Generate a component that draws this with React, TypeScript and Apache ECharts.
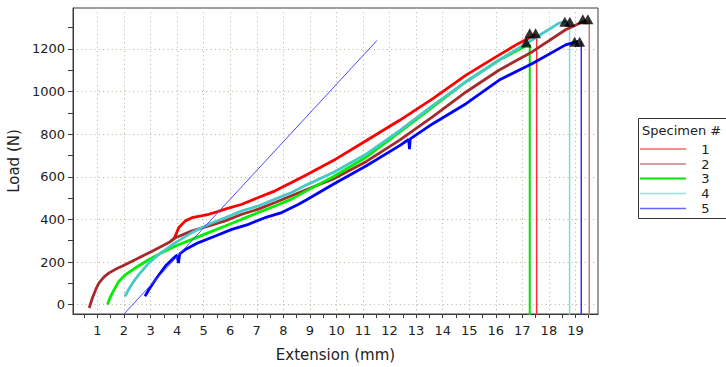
import React, { useEffect, useRef } from 'react';
import * as echarts from 'echarts';

// ---- data ----
const specimenNames = ['1', '2', '3', '4', '5'];
const lineColors = ['#ff0000', '#a52a2a', '#00ee00', '#48c8c8', '#0000ff'];
const legendColors = ['#ff6464', '#c08282', '#00e600', '#96e0e0', '#6464ff'];
const dropColors = ['#ff3030', '#c07a7a', '#00e000', '#86d8d8', '#3434ff'];

const spec1 = [
  [3.75, 296], [3.9, 312], [4.06, 361], [4.31, 393], [4.56, 408], [4.9, 416], [5.19, 424],
  [5.5, 435], [5.81, 448], [6.44, 471], [7.06, 503], [7.69, 534], [8.31, 573], [8.88, 610],
  [9.88, 676], [11.13, 770], [12.38, 865], [13.63, 967], [14.88, 1077], [16.13, 1172],
  [16.88, 1227], [17.5, 1268],
];
const spec2 = [
  [0.69, -16], [0.81, 31], [0.95, 75], [1.06, 102], [1.25, 130], [1.44, 149], [1.7, 167],
  [1.94, 181], [2.44, 212], [3.06, 251], [3.69, 291], [3.94, 314], [4.56, 346], [5.19, 369],
  [5.81, 393], [6.44, 424], [7.06, 448], [7.69, 479], [8.31, 511], [8.88, 540], [9.88, 590],
  [11.13, 672], [12.38, 772], [13.63, 882], [14.88, 998], [16.13, 1101], [17.38, 1187],
  [18.63, 1290], [19.4, 1335],
];
const spec3 = [
  [1.38, 0], [1.45, 25], [1.56, 55], [1.81, 110], [2.06, 141], [2.44, 173], [2.94, 212],
  [3.31, 236], [3.94, 275], [4.56, 306], [5.19, 338], [5.81, 369], [6.44, 401], [7.06, 432],
  [7.69, 463], [8.31, 495], [8.88, 535], [9.88, 600], [11.13, 693], [12.38, 809], [13.63, 928],
  [14.88, 1046], [16.13, 1148], [17.0, 1205], [17.2, 1222],
];
const spec4 = [
  [2.04, 39], [2.15, 65], [2.25, 86], [2.4, 115], [2.56, 141], [2.94, 196], [3.31, 236],
  [3.94, 291], [4.56, 338], [5.19, 377], [5.81, 408], [6.44, 440], [7.06, 463], [7.69, 495],
  [8.31, 526], [8.88, 562], [9.88, 620], [11.13, 707], [12.38, 817], [13.63, 935], [14.88, 1046],
  [16.13, 1148], [17.38, 1243], [18.38, 1321], [18.7, 1330],
];
const spec5 = [
  [2.79, 39], [2.94, 71], [3.19, 118], [3.56, 181], [3.88, 220], [4.0, 232], [4.05, 195],
  [4.1, 238], [4.31, 259], [4.81, 291], [5.44, 322], [6.06, 353], [6.69, 377], [7.31, 408],
  [7.94, 432], [8.56, 470], [8.88, 492], [9.88, 565], [11.13, 652], [12.38, 746], [12.72, 775],
  [12.75, 730], [12.78, 778], [13.63, 849], [14.88, 943], [16.13, 1054], [17.38, 1132],
  [18.63, 1219], [19.1, 1236],
];
const specimens = [spec1, spec2, spec3, spec4, spec5];

// break drop lines: x position and top load; they run down past the axis
const dropX = [17.54, 19.52, 17.28, 18.78, 19.22];
const dropTop = [1268, 1335, 1222, 1330, 1236];
const dropBottom = -60;

// black triangle markers at peak / break
const breakMarkers = [
  [17.28, 1273], [17.5, 1273],
  [17.15, 1230],
  [18.6, 1328], [18.79, 1328],
  [19.28, 1339], [19.47, 1339],
  [18.97, 1234], [19.16, 1234],
];

// thin modulus (slope) line
const slopeLine = [[2.0, -44], [11.53, 1240]];

// axes
const xMin = 0.08;
const xMax = 19.85;
const yMin = -44;
const yMax = 1392;
const xTickValues = [0.5, 1, 1.5, 2, 2.5, 3, 3.5, 4, 4.5, 5, 5.5, 6, 6.5, 7, 7.5, 8, 8.5, 9, 9.5, 10, 10.5, 11, 11.5, 12, 12.5, 13, 13.5, 14, 14.5, 15, 15.5, 16, 16.5, 17, 17.5, 18, 18.5, 19, 19.5];
const xLabelValues = [1, 2, 3, 4, 5, 6, 7, 8, 9, 10, 11, 12, 13, 14, 15, 16, 17, 18, 19];
const yTickValues = [0, 100, 200, 300, 400, 500, 600, 700, 800, 900, 1000, 1100, 1200, 1300];
const yLabelValues = [0, 200, 400, 600, 800, 1000, 1200];

const FONT = 'DejaVu Sans';
const TEXT = '#222';
const AXIS = '#3a3a3a';
const GRIDDOT = '#b9b09a';

export default function App() {
  const ref = useRef<HTMLDivElement>(null);
  useEffect(() => {
    if (!ref.current) return;
    const chart = echarts.init(ref.current, undefined, { renderer: 'svg' });

    const mainSeries = specimens.map((d, i) => ({
      name: specimenNames[i],
      type: 'line',
      data: d,
      showSymbol: false,
      symbol: 'none',
      lineStyle: { color: lineColors[i], width: 2.8 },
      itemStyle: { color: lineColors[i] },
      silent: true,
      z: 2 + i,
    }));
    const dropSeries = specimens.map((_, i) => ({
      type: 'line',
      data: [[dropX[i], dropTop[i]], [dropX[i], dropBottom]],
      showSymbol: false,
      symbol: 'none',
      lineStyle: { color: dropColors[i], width: i === 2 ? 2 : 1.5 },
      silent: true,
      z: 2,
    }));

    const legendY = [149, 164, 178.5, 193.5, 208.5];
    const legendGraphics: any[] = [
      {
        type: 'rect',
        shape: { x: 638.5, y: 118.5, width: 120, height: 100 },
        style: { fill: '#fff', stroke: '#333', lineWidth: 1 },
      },
      {
        type: 'text',
        x: 642,
        y: 130,
        style: { text: 'Specimen #', font: `13px "${FONT}"`, fill: TEXT, verticalAlign: 'middle' },
      },
    ];
    specimenNames.forEach((n, i) => {
      legendGraphics.push({
        type: 'line',
        shape: { x1: 640, y1: legendY[i], x2: 686, y2: legendY[i] },
        style: { stroke: legendColors[i], lineWidth: i === 2 ? 2 : 1.5 },
      });
      legendGraphics.push({
        type: 'text',
        x: 705.5,
        y: legendY[i],
        style: { text: n, font: `13px "${FONT}"`, fill: TEXT, align: 'center', verticalAlign: 'middle' },
      });
    });

    const plain = (v: number) => String(v);

    const option: any = {
      animation: false,
      backgroundColor: '#fff',
      grid: {
        left: 73,
        top: 8,
        width: 525,
        height: 306,
        show: true,
        borderColor: AXIS,
        borderWidth: 1,
        backgroundColor: 'transparent',
        containLabel: false,
        outerBoundsMode: 'none',
      },
      xAxis: [
        {
          type: 'value',
          min: xMin,
          max: xMax,
          position: 'bottom',
          name: 'Extension (mm)',
          nameLocation: 'middle',
          nameGap: 33,
          nameTextStyle: { fontFamily: FONT, fontSize: 15, color: TEXT },
          axisLine: { show: true, onZero: false, lineStyle: { color: AXIS, width: 1 } },
          axisTick: { show: true, customValues: xTickValues, length: 4, lineStyle: { color: AXIS } },
          axisLabel: { customValues: xLabelValues, formatter: plain, margin: 10, fontFamily: FONT, fontSize: 13, color: TEXT },
          splitLine: { show: false },
        },
        {
          type: 'value',
          min: xMin,
          max: xMax,
          position: 'bottom',
          axisLine: { show: false },
          axisTick: { show: false, customValues: xLabelValues },
          axisLabel: { show: false, customValues: xLabelValues },
          splitLine: { show: true, lineStyle: { color: GRIDDOT, width: 1, type: [1, 3.3] } },
        },
      ],
      yAxis: [
        {
          type: 'value',
          min: yMin,
          max: yMax,
          position: 'left',
          name: 'Load (N)',
          nameLocation: 'middle',
          nameGap: 47,
          nameTextStyle: { fontFamily: FONT, fontSize: 15, color: TEXT },
          axisLine: { show: true, onZero: false, lineStyle: { color: AXIS, width: 1 } },
          axisTick: { show: true, customValues: yTickValues, length: 5, lineStyle: { color: AXIS } },
          axisLabel: { customValues: yLabelValues, formatter: plain, margin: 8, fontFamily: FONT, fontSize: 13, color: TEXT },
          splitLine: { show: false },
        },
        {
          type: 'value',
          min: yMin,
          max: yMax,
          position: 'left',
          axisLine: { show: false },
          axisTick: { show: false, customValues: yLabelValues },
          axisLabel: { show: false, customValues: yLabelValues },
          splitLine: { show: true, lineStyle: { color: GRIDDOT, width: 1, type: [1, 3.3] } },
        },
      ],
      series: [
        ...dropSeries,
        ...mainSeries,
        {
          type: 'line',
          data: slopeLine,
          showSymbol: false,
          symbol: 'none',
          lineStyle: { color: '#4a4aff', width: 1 },
          silent: true,
          z: 8,
        },
        {
          type: 'scatter',
          data: breakMarkers,
          symbol: 'triangle',
          symbolSize: [11, 10],
          itemStyle: { color: '#000' },
          silent: true,
          z: 9,
        },
      ],
      graphic: legendGraphics,
    };
    chart.setOption(option);
    return () => chart.dispose();
  }, []);

  return (
    <div
      ref={ref}
      style={{ position: 'fixed', left: 0, top: 0, width: 726, height: 367, background: '#fff' }}
    />
  );
}
